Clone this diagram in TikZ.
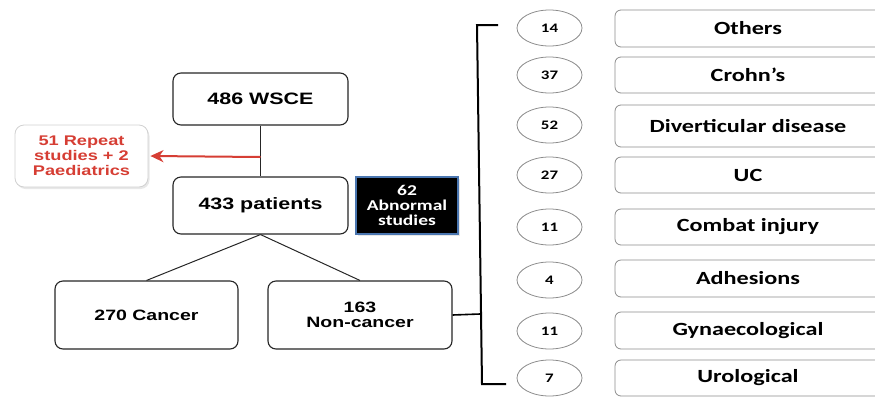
\documentclass[tikz,border=0pt]{standalone}
\usepackage{fontspec}
\usepackage{graphicx}
\setmainfont{Liberation Sans}
\newfontfamily\calfont{Carlito}
\usetikzlibrary{shapes.geometric,shadows,arrows.meta}
\newcommand{\hsx}[1]{\scalebox{1.3}[1]{#1}}
\definecolor{redtx}{RGB}{214,62,52}
\definecolor{bluebd}{RGB}{74,118,176}
\tikzset{
  mainbox/.style={draw=black!85, line width=1.1pt, rounded corners=8pt, fill=white, align=center,
    font=\fontsize{16.5}{18}\selectfont\bfseries},
  lowbox/.style={mainbox, font=\fontsize{15}{17}\selectfont\bfseries},
  repbox/.style={draw=black!18, line width=0.8pt, rounded corners=9pt, fill=white, align=center,
    text=redtx, font=\fontsize{14}{16}\selectfont\bfseries,
    drop shadow={opacity=0.18, shadow xshift=1.5pt, shadow yshift=-2pt}},
  abnbox/.style={draw=bluebd, line width=1.4pt, fill=black, text=white, align=center,
    font=\calfont\fontsize{15}{16}\selectfont\bfseries,
    drop shadow={opacity=0.2, shadow xshift=1.5pt, shadow yshift=-1.5pt}},
  numell/.style={ellipse, draw=black!45, line width=0.8pt, minimum width=65pt, minimum height=36pt,
    inner sep=0pt, font=\calfont\fontsize{13}{14}\selectfont\bfseries},
  catbox/.style={draw=black!45, line width=0.8pt, rounded corners=6pt, minimum width=266pt,
    inner sep=0pt, font=\calfont\fontsize{18.6}{20}\selectfont\bfseries},
  link/.style={draw=black!85, line width=1pt},
  brk/.style={draw=black, line width=2pt},
}
\begin{document}
\begin{tikzpicture}[x=1pt, y=-1pt]
\useasboundingbox (0,0) rectangle (875,397);
\clip (0,0) rectangle (875,397);
% left flow
\node[mainbox, minimum width=175pt, minimum height=52pt] (wsce) at (260.5,99) {\hsx{486 WSCE}};
\node[repbox, minimum width=133pt, minimum height=62pt] (rep) at (81.5,156)
  {\hsx{51 Repeat}\\[-1pt]\hsx{studies + 2}\\[-1pt]\hsx{Paediatrics}};
\node[mainbox, minimum width=175pt, minimum height=57pt] (pat) at (260.5,205.5) {\hsx{433 patients}};
\node[abnbox, minimum width=102pt, minimum height=57pt, inner sep=0pt] (abn) at (407,205.5)
  {\hsx{62}\\[-1pt]\hsx{Abnormal}\\[-1pt]\hsx{studies}};
\node[lowbox, minimum width=183pt, minimum height=68pt] (can) at (146.5,315) {\hsx{270 Cancer}};
\node[lowbox, minimum width=184pt, minimum height=68pt] (non) at (360,315) {\hsx{163}\\[-2pt]\hsx{Non-cancer}};
\coordinate (split) at (260.5,157);
\draw[link] (wsce.south) -- (pat.north);
\draw[draw=redtx, line width=2pt, -{Stealth[length=13pt,width=12pt,inset=4pt]}] (split) -- ([xshift=2pt]rep.east);
\draw[link] (pat.south) -- (can.north);
\draw[link] (pat.south) -- (non.north);
% bracket
\coordinate (bt) at (477,25);
\coordinate (bte) at (498,25);
\coordinate (bj) at (480,314);
\coordinate (bb) at (482,384);
\coordinate (bbe) at (506,384);
\draw[brk, line join=miter] (bte) -- (bt) -- (bb) -- (bbe);
\draw[brk, line width=1.6pt] (non.east) -- (bj);
% right column
\node[numell] (n1) at (549.5,28) {\hsx{14}};
\node[numell] (n2) at (549.5,75) {\hsx{37}};
\node[numell] (n3) at (549.5,125) {\hsx{52}};
\node[numell] (n4) at (549.5,175) {\hsx{27}};
\node[numell] (n5) at (549.5,227) {\hsx{11}};
\node[numell] (n6) at (549.5,280) {\hsx{4}};
\node[numell] (n7) at (549.5,331) {\hsx{11}};
\node[numell] (n8) at (549.5,378) {\hsx{7}};
\node[catbox, minimum height=37pt] (c1) at (748,28.5) {\hsx{Others}};
\node[catbox, minimum height=36pt] (c2) at (748,75) {\hsx{Crohn’s}};
\node[catbox, minimum height=42pt] (c3) at (748,126) {\hsx{Diverticular disease}};
\node[catbox, minimum height=36pt] (c4) at (748,175) {\hsx{UC}};
\node[catbox, minimum height=36pt] (c5) at (748,227) {\hsx{Combat injury}};
\node[catbox, minimum height=37pt] (c6) at (748,278.5) {\hsx{Adhesions}};
\node[catbox, minimum height=37pt] (c7) at (748,330.5) {\hsx{Gynaecological}};
\node[catbox, minimum height=36pt] (c8) at (748,378) {\hsx{Urological}};
\end{tikzpicture}
\end{document}
